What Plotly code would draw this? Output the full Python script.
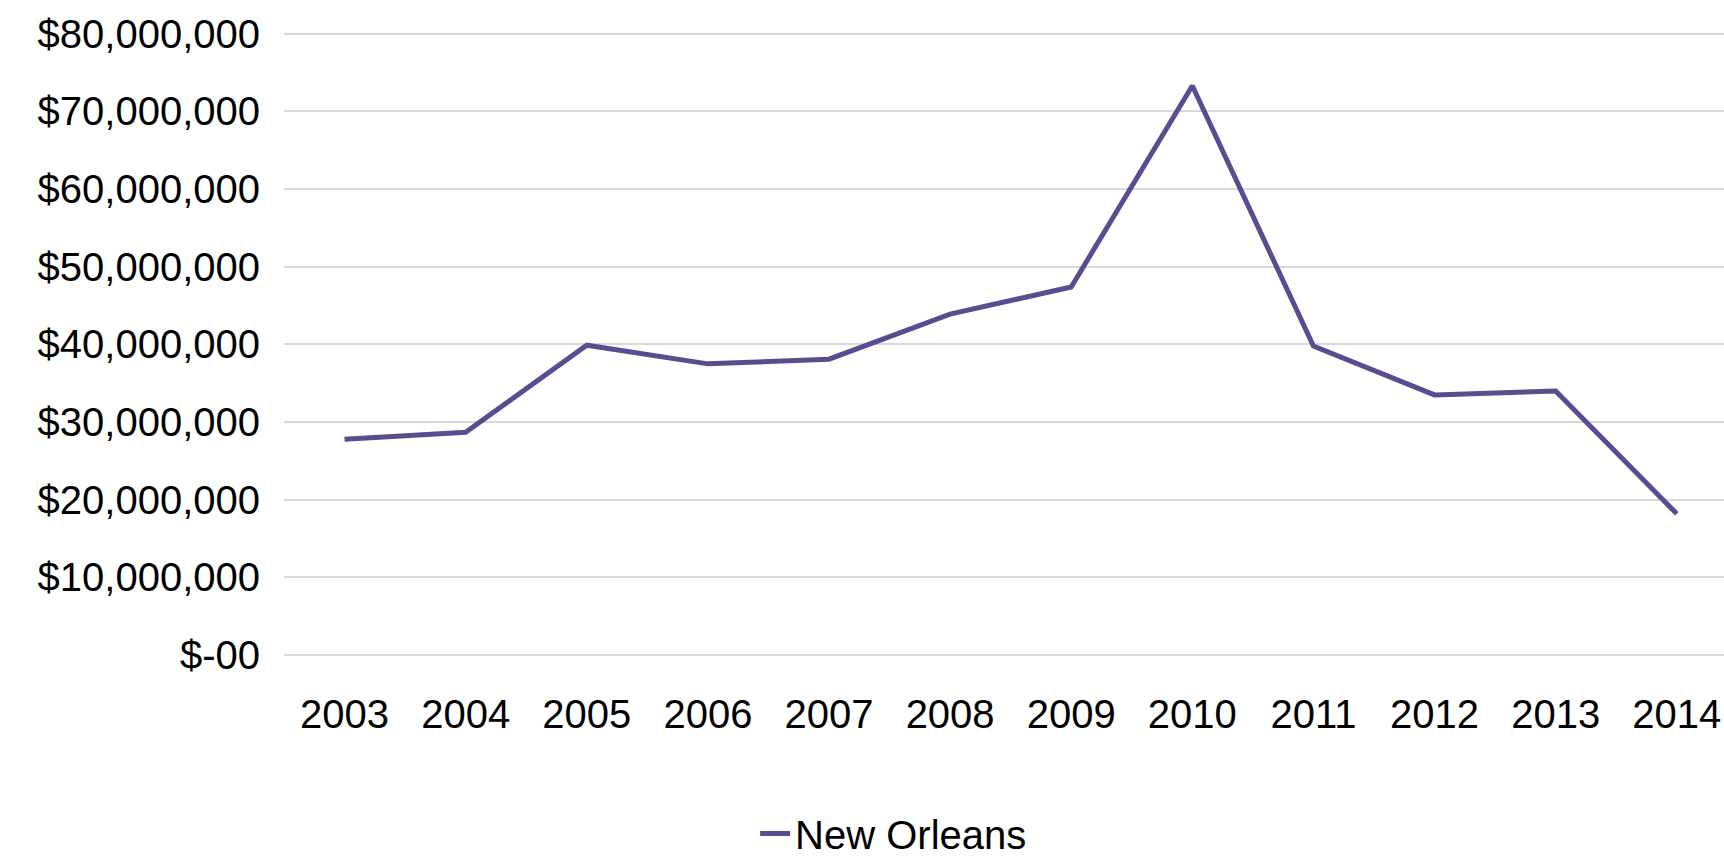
import plotly.graph_objects as go

years = ["2003", "2004", "2005", "2006", "2007", "2008", "2009", "2010", "2011", "2012", "2013", "2014"]
new_orleans = [27.8e6, 28.7e6, 39.9e6, 37.5e6, 38.1e6, 43.9e6, 47.4e6, 73.3e6, 39.8e6, 33.5e6, 34.0e6, 18.2e6]
y_tickvals = [0, 10e6, 20e6, 30e6, 40e6, 50e6, 60e6, 70e6, 80e6]
y_ticktext = ["$-00", "$10,000,000", "$20,000,000", "$30,000,000", "$40,000,000",
              "$50,000,000", "$60,000,000", "$70,000,000", "$80,000,000"]

FONT = "Liberation Sans, Arial, sans-serif"
FS = 40

fig = go.Figure()
fig.add_trace(go.Scatter(
    x=years, y=new_orleans, mode="lines", name="New Orleans",
    line=dict(color="#574D91", width=5),
))

fig.update_layout(
    width=1724, height=866,
    margin=dict(l=284, r=0, t=26, b=207, autoexpand=False),
    paper_bgcolor="white", plot_bgcolor="white",
    font=dict(family=FONT, size=FS, color="black"),
    showlegend=True,
    legend=dict(orientation="h", xref="container", x=0.438, xanchor="left",
                yref="container", y=0.0, yanchor="bottom",
                font=dict(family=FONT, size=FS, color="black"),
                itemwidth=30, bgcolor="rgba(0,0,0,0)"),
    xaxis=dict(type="category", range=[-0.5, 11.39], showgrid=False, showline=False,
               ticks="", ticklabelstandoff=28, automargin=False,
               tickfont=dict(family=FONT, size=FS, color="black")),
    yaxis=dict(range=[-0.5e6, 81e6], tickvals=y_tickvals, ticktext=y_ticktext,
               showgrid=True, gridcolor="#D9D9D9", gridwidth=2, zeroline=False,
               showline=False, ticks="", ticklabelstandoff=23, automargin=False,
               tickfont=dict(family=FONT, size=FS, color="black")),
)

fig.write_html("out.html")
